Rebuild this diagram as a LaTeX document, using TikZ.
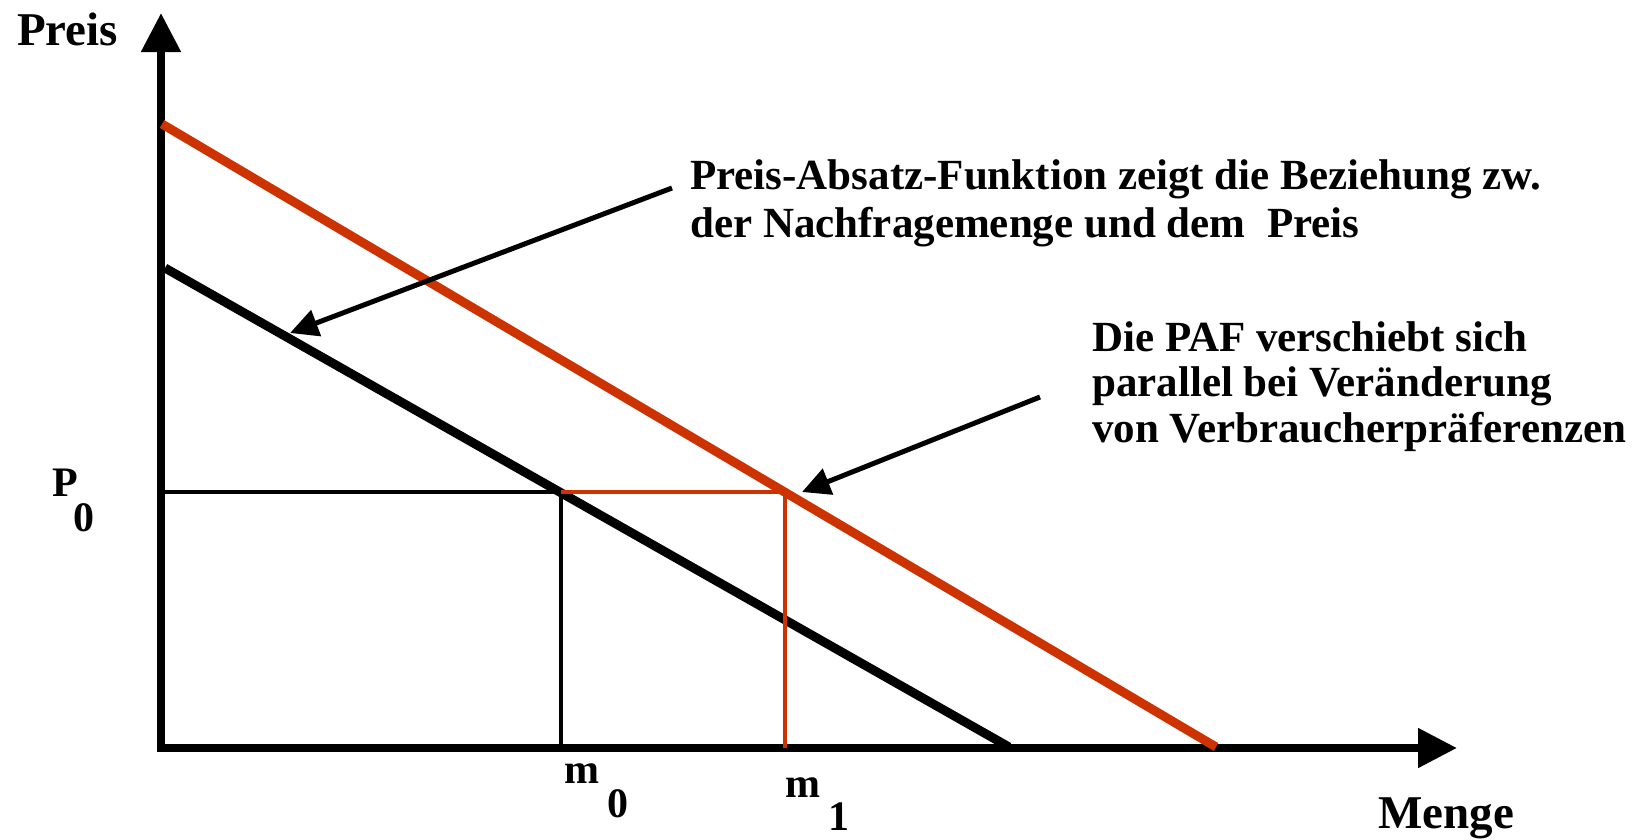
\documentclass[tikz,border=0pt]{standalone}
\usepackage{fontspec}
\setmainfont{Liberation Serif}
\usetikzlibrary{arrows.meta}
\definecolor{paf}{HTML}{CC3300}
\begin{document}
\begin{tikzpicture}[x=1pt,y=-1pt,
  lbl/.style={font=\fontsize{42}{47}\selectfont\bfseries, inner sep=0, anchor=base west},
  note/.style={font=\fontsize{43}{47}\selectfont\bfseries, inner sep=0, anchor=base west},
  axlbl/.style={font=\fontsize{47}{50}\selectfont\bfseries, inner sep=0, anchor=base west},
  axisline/.style={line width=8pt, -{Triangle[length=39pt,width=38pt]}},
  curveline/.style={line width=9pt},
  guide/.style={line width=4pt},
  pointer/.style={line width=5pt, -{Triangle[length=28pt,width=27pt]}}]
\useasboundingbox (0,0) rectangle (1639,839);
% coordinates
\coordinate (O) at (161,748);
\coordinate (ytip) at (161,13);
\coordinate (xtip) at (1457,748);
\coordinate (b0) at (165,268);
\coordinate (b1) at (1009,747);
\coordinate (r0) at (162,124);
\coordinate (r1) at (1216,747);
\coordinate (p0) at (161,492);
\coordinate (q0) at (561,492);
\coordinate (q1) at (785,492);
\coordinate (f0) at (561,748);
\coordinate (f1) at (785,748);
\coordinate (t1) at (672,188);
\coordinate (h1) at (290,333);
\coordinate (t2) at (1040,397);
\coordinate (h2) at (802,492);
% axes
\draw[axisline] ([yshift=-4pt]O) -- (ytip);
\draw[axisline] ([xshift=-4pt]O) -- (xtip);
% guides (black)
\draw[guide] (p0) -- (q0);
\draw[guide] (q0) -- (f0);
% black PAF
\draw[curveline] (b0) -- (b1);
% guides (red)
\draw[guide, paf] (q0) -- (q1);
\draw[guide, paf] (q1) -- (f1);
% red PAF
\draw[curveline, paf] (r0) -- (r1);
% pointers
\draw[pointer] (t1) -- (h1);
\draw[pointer] (t2) -- (h2);
% labels
\node[axlbl] (ylabel) at (17,45) {Preis};
\node[axlbl] (xlabel) at (1378,828) {Menge};
\node[lbl] (P) at (52,496) {P};
\node[lbl] (Psub) at (73,531) {0};
\node[lbl] (m0) at (564,783) {m};
\node[lbl] (m0sub) at (607,817) {0};
\node[lbl] (m1) at (785,797) {m};
\node[lbl] (m1sub) at (828,830) {1};
\node[note] (n1a) at (690,189) {Preis-Absatz-Funktion zeigt die Beziehung zw.};
\node[note] (n1b) at (690,237) {der Nachfragemenge und dem\ \ Preis};
\node[note] (n2a) at (1092,351) {Die PAF verschiebt sich};
\node[note] (n2b) at (1092,396) {parallel bei Veränderung};
\node[note] (n2c) at (1092,442) {von Verbraucherpräferenzen};
\end{tikzpicture}
\end{document}
